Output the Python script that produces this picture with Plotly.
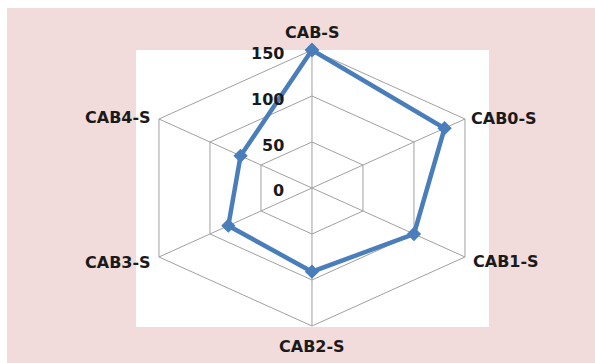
import numpy as np
import plotly.graph_objects as go

categories = ["CAB-S", "CAB0-S", "CAB1-S", "CAB2-S", "CAB3-S", "CAB4-S"]
values = [150, 130, 100, 91, 82, 70]
ring_ticks = [0, 50, 100, 150]
tick_labels = ["0", "50", "100", "150"]

BLUE = "#4a7ebb"
GRID = "#a0a0a0"
PINK = "#f2dcdb"

n = len(categories)
ang = np.deg2rad(90 - 360.0 / n * np.arange(n))
rmax = ring_ticks[-1]


def xy(r):
    r = np.asarray(r, dtype=float)
    return r * np.cos(ang), r * np.sin(ang)


fig = go.Figure()

# hexagonal grid rings
for t in ring_ticks[1:]:
    gx, gy = xy([t] * n)
    fig.add_trace(go.Scatter(x=list(gx) + [gx[0]], y=list(gy) + [gy[0]], mode="lines",
                             line=dict(color=GRID, width=1), hoverinfo="skip", showlegend=False))
# spokes
ox, oy = xy([rmax] * n)
sx, sy = [], []
for i in range(n):
    sx += [0, ox[i], None]
    sy += [0, oy[i], None]
fig.add_trace(go.Scatter(x=sx, y=sy, mode="lines", line=dict(color=GRID, width=1),
                         hoverinfo="skip", showlegend=False))

# data series
vx, vy = xy(values)
fig.add_trace(go.Scatter(x=list(vx) + [vx[0]], y=list(vy) + [vy[0]], mode="lines+markers",
                         line=dict(color=BLUE, width=4.5),
                         marker=dict(symbol="diamond", size=11, color=BLUE),
                         showlegend=False, cliponaxis=False))

font = dict(family="DejaVu Sans", size=16, color="#1a1a1a", weight="bold")

# radial tick labels
for t, lab in zip(ring_ticks, tick_labels):
    fig.add_annotation(x=0, y=t, text=lab, showarrow=False, xanchor="right", yanchor="middle",
                       xshift=-26, yshift=-3, font=font)

# category labels
shifts = [(0, 18, "center"), (4, 1, "left"), (6, -5, "left"),
          (0, -21, "center"), (-6, -6, "right"), (-6, 2, "right")]
for i, c in enumerate(categories):
    dx, dy, anc = shifts[i]
    fig.add_annotation(x=ox[i], y=oy[i], text=c, showarrow=False, xanchor=anc, yanchor="middle",
                       xshift=dx, yshift=dy, font=font)

fig.update_xaxes(visible=False, range=[-149.4, 150.3], fixedrange=True)
fig.update_yaxes(visible=False, range=[-151.1, 150.0], fixedrange=True)

fig.update_layout(
    width=595, height=363,
    margin=dict(l=136, r=106, t=50, b=36),
    paper_bgcolor=PINK, plot_bgcolor="white",
    shapes=[
        dict(type="rect", xref="paper", yref="paper", x0=-0.40, x1=(7 - 136) / 353, y0=-0.2, y1=1.2,
             fillcolor="white", line=dict(width=0), layer="below"),
        dict(type="rect", xref="paper", yref="paper", x0=-0.40, x1=1.4, y0=(327 - 8) / 277, y1=1.2,
             fillcolor="white", line=dict(width=0), layer="below"),
    ],
)

fig.write_html("out.html")
